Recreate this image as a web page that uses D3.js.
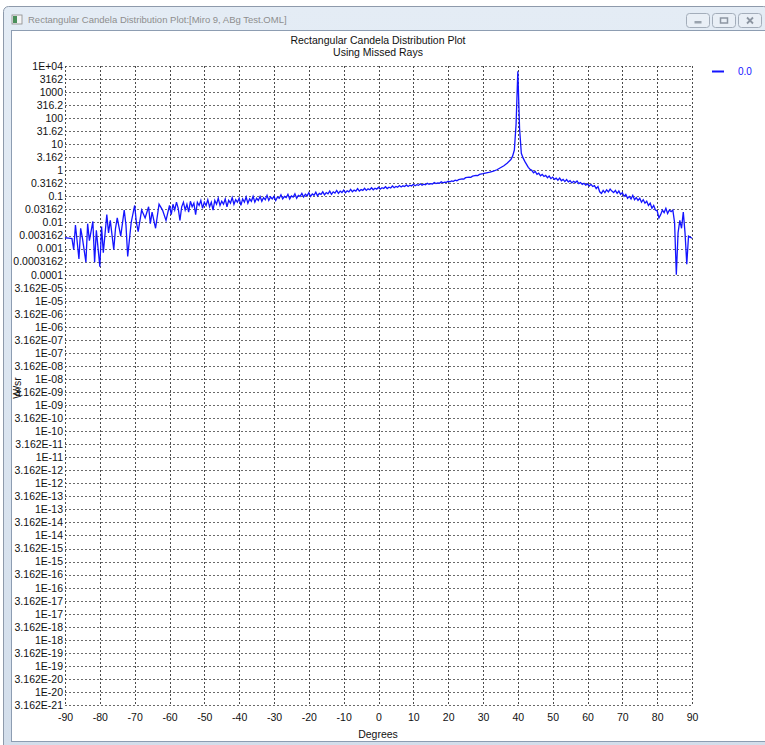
<!DOCTYPE html>
<html>
<head>
<meta charset="utf-8">
<script src="https://cdn.jsdelivr.net/npm/d3@7"></script>
<style>
  body { margin: 0; background: #fff; }
  svg text { font-family: "Liberation Sans", Arial, sans-serif; }
</style>
</head>
<body>
<div id="main"></div>
<script>
var W = 765, H = 745;

// chart texts
var windowTitle = "Rectangular Candela Distribution Plot:[Miro 9, ABg Test.OML]";
var chartTitle = ["Rectangular Candela Distribution Plot", "Using Missed Rays"];
var xLabel = "Degrees";
var yLabel = "W/sr";
var seriesName = "0.0";

// axis ticks
var xTicks = [-90, -80, -70, -60, -50, -40, -30, -20, -10, 0, 10, 20, 30, 40, 50, 60, 70, 80, 90];
var yTickLabels = ["1E+04","3162","1000","316.2","100","31.62","10","3.162","1","0.3162","0.1",
    "0.03162","0.01","0.003162","0.001","0.0003162","0.0001","3.162E-05","1E-05","3.162E-06",
    "1E-06","3.162E-07","1E-07","3.162E-08","1E-08","3.162E-09","1E-09","3.162E-10","1E-10",
    "3.162E-11","1E-11","3.162E-12","1E-12","3.162E-13","1E-13","3.162E-14","1E-14","3.162E-15",
    "1E-15","3.162E-16","1E-16","3.162E-17","1E-17","3.162E-18","1E-18","3.162E-19","1E-19",
    "3.162E-20","1E-20","3.162E-21"];

// [degrees, W/sr]
var missedRays = [
    [-90,0.0026],[-89,0.0025],[-88,0.0024],[-87.5,0.0009],[-87,0.008],[-86,0.0004],[-85.5,0.006],
    [-85,0.0025],[-84,0.0003],[-83.5,0.009],[-83,0.002],[-82,0.011],[-81.5,0.0003],[-81,0.005],
    [-80,0.0002],[-79.5,0.007],[-79,0.0007],[-78,0.02],[-77.5,0.004],[-77,0.012],[-76,0.0009],
    [-75.5,0.006],[-75,0.015],[-74,0.003],[-73,0.03],[-72.5,0.008],[-72,0.0005],[-71,0.01],
    [-70,0.045],[-69.5,0.01],[-69,0.0045],[-68,0.03],[-67,0.015],[-66,0.04],[-65.5,0.009],
    [-65,0.025],[-64,0.006],[-63,0.05],[-62,0.03],[-61,0.012],[-60,0.045],
    [-59.5,0.02],[-59,0.05],[-58.5,0.03],[-58,0.06],[-57.5,0.035],[-57,0.012],[-56.5,0.04],
    [-56,0.06],[-55.5,0.03],[-55,0.05],[-54.5,0.025],[-54,0.065],[-53.5,0.04],[-53,0.055],
    [-52.5,0.02],[-52,0.06],[-51.5,0.045],[-51,0.07],[-50.5,0.035],[-50,0.06],[-49.5,0.045],
    [-49,0.075],[-48.5,0.04],[-48,0.06],[-47.5,0.03],[-47,0.07],[-46.5,0.05],[-46,0.085],
    [-45.5,0.045],[-45,0.065],[-44.5,0.05],[-44,0.08],[-43.5,0.04],[-43,0.07],[-42.5,0.055],
    [-42,0.09],[-41.5,0.05],[-41,0.075],[-40.5,0.06],[-40,0.085],[-39.5,0.045],[-39,0.08],
    [-38.5,0.06],[-38,0.095],[-37.5,0.055],[-37,0.08],[-36.5,0.065],[-36,0.1],[-35.5,0.06],
    [-35,0.085],[-34.5,0.07],[-34,0.1],[-33.5,0.065],[-33,0.09],[-32.5,0.075],[-32,0.11],
    [-31.5,0.07],[-31,0.095],[-30.5,0.08],[-30,0.1],[-29.5,0.07],[-29,0.095],[-28.5,0.085],
    [-28,0.115],[-27.5,0.08],[-27,0.1],[-26.5,0.09],[-26,0.12],[-25.5,0.08],[-25,0.105],
    [-24.5,0.095],[-24,0.125],[-23.5,0.085],[-23,0.11],[-22.5,0.1],[-22,0.13],[-21.5,0.095],
    [-21,0.12],[-20.5,0.105],[-20,0.14],[-19.5,0.1],[-19,0.125],[-18.5,0.11],[-18,0.145],
    [-17.5,0.105],[-17,0.13],[-16.5,0.12],[-16,0.15],[-15.5,0.115],[-15,0.14],[-14.5,0.125],
    [-14,0.16],[-13.5,0.12],[-13,0.15],[-12.5,0.135],[-12,0.17],[-11.5,0.13],[-11,0.16],
    [-10.5,0.14],[-10,0.175],[-9.5,0.14],[-9,0.165],[-8.5,0.15],[-8,0.185],[-7.5,0.15],
    [-7,0.175],[-6.5,0.16],[-6,0.2],[-5.5,0.16],[-5,0.185],[-4.5,0.17],[-4,0.205],[-3.5,0.17],
    [-3,0.195],[-2.5,0.18],[-2,0.215],[-1.5,0.18],[-1,0.205],[-0.5,0.19],[0,0.225],[0.5,0.19],
    [1,0.215],[1.5,0.2],[2,0.235],[2.5,0.2],[3,0.225],[3.5,0.21],[4,0.25],[4.5,0.215],
    [5,0.24],[5.5,0.225],[6,0.26],[6.5,0.23],[7,0.255],[7.5,0.24],[8,0.275],[8.5,0.24],
    [9,0.27],[9.5,0.25],[10,0.29],[10.5,0.255],[11,0.28],[11.5,0.265],[12,0.305],[12.5,0.27],
    [13,0.295],[13.5,0.28],[14,0.32],[14.5,0.29],[15,0.31],[15.5,0.3],[16,0.34],[16.5,0.31],
    [17,0.33],[17.5,0.32],[18,0.36],[18.5,0.33],[19,0.355],[19.5,0.345],[20,0.38],[20.5,0.36],
    [21,0.39],[21.5,0.38],[22,0.42],[22.5,0.4],[23,0.44],[24,0.47],[24.5,0.46],[25,0.52],
    [26,0.55],[26.5,0.54],[27,0.6],[28,0.64],[28.5,0.63],[29,0.7],[30,0.74],[31,0.8],
    [32,0.86],[33,0.94],[34,1.05],[35,1.25],[36,1.5],[37,1.9],[38,2.6],[38.5,3.5],[39,6],
    [39.5,60],[40,6300],[40.5,40],[41,4.5],[41.5,3],[42,2.2],[43,1.3],[43.5,1.1],[44,1.0],
    [44.5,0.8],[45,0.9],[45.5,0.7],[46,0.78],[46.5,0.62],[47,0.7],[47.5,0.58],[48,0.64],
    [48.5,0.52],[49,0.6],[49.5,0.48],[50,0.55],[50.5,0.45],[51,0.5],[51.5,0.42],[52,0.5],
    [52.5,0.4],[53,0.45],[53.5,0.37],[54,0.44],[54.5,0.36],[55,0.4],[55.5,0.33],[56,0.38],
    [56.5,0.34],[57,0.39],[57.5,0.31],[58,0.34],[58.5,0.29],[59,0.32],[59.5,0.27],[60,0.3],
    [60.5,0.25],[61,0.29],[61.5,0.24],[62,0.26],[62.5,0.2],[63,0.24],[63.5,0.15],[64,0.13],
    [64.5,0.17],[65,0.14],[65.5,0.18],[66,0.15],[66.5,0.19],[67,0.16],[67.5,0.14],[68,0.17],
    [68.5,0.13],[69,0.16],[69.5,0.12],[70,0.14],[70.5,0.1],[71,0.12],[71.5,0.085],[72,0.1],
    [72.5,0.08],[73,0.11],[73.5,0.075],[74,0.09],[74.5,0.07],[75,0.085],[75.5,0.06],
    [76,0.075],[76.5,0.055],[77,0.065],[77.5,0.045],[78,0.055],[78.5,0.035],[79,0.045],
    [79.5,0.03],[80,0.028],[80.5,0.015],[81,0.02],[81.5,0.03],[82,0.024],[82.5,0.035],
    [83,0.022],[83.5,0.03],[84,0.026],[84.5,0.03],[85,0.01],[85.5,0.0001],[86,0.004],
    [86.5,0.012],[87,0.006],[87.5,0.025],[88,0.004],[88.5,0.00025],[89,0.003],[90,0.0025]
];

var svg = d3.select("#main").append("svg")
    .attr("width", W).attr("height", H);

// ---- window chrome ----
var defs = svg.append("defs");
var grad = defs.append("linearGradient").attr("id", "frameG")
    .attr("x1", 0).attr("y1", 0).attr("x2", 0).attr("y2", 1);
grad.append("stop").attr("offset", "0").attr("stop-color", "#e4ecf5");
grad.append("stop").attr("offset", "1").attr("stop-color", "#d3deeb");

svg.append("rect").attr("x", 3.5).attr("y", 6.5).attr("width", W).attr("height", H)
    .attr("rx", 5).style("fill", "url(#frameG)").style("stroke", "#8e9aab");
svg.append("rect").attr("x", 11.5).attr("y", 30.5).attr("width", W).attr("height", 711)
    .style("fill", "#fff").style("stroke", "#8d9db2");

// icon
svg.append("rect").attr("x", 12).attr("y", 15).attr("width", 10).attr("height", 9)
    .style("fill", "#f4f4f4").style("stroke", "#8a8a8a").style("stroke-width", 0.8);
svg.append("rect").attr("x", 13).attr("y", 16).attr("width", 4).attr("height", 7)
    .style("fill", "#4a8f5a");
svg.append("text").attr("x", 28).attr("y", 22.5)
    .style("font-size", "9.5px").style("fill", "#8e8e8e").text(windowTitle);

// caption buttons
[686, 712, 738].forEach(function(bx, i){
    svg.append("rect").attr("x", bx + 0.5).attr("y", 13.5).attr("width", 23).attr("height", 14)
        .attr("rx", 3).style("fill", "#e9eff6").style("stroke", "#a3adba");
    var g = svg.append("g").attr("transform", "translate(" + (bx + 12) + ",20.5)");
    if (i === 0) g.append("rect").attr("x", -3.5).attr("y", 0.5).attr("width", 7).attr("height", 2.5)
        .style("fill", "#9aa3ae");
    if (i === 1) g.append("rect").attr("x", -3.5).attr("y", -2.5).attr("width", 7).attr("height", 5)
        .style("fill", "none").style("stroke", "#8d96a2").style("stroke-width", 1.5);
    if (i === 2) g.append("path").attr("d", "M-3,-3L3,3M3,-3L-3,3")
        .style("stroke", "#8d96a2").style("stroke-width", 1.8);
});

// ---- chart ----
var xScale = d3.scaleLinear().domain([-90, 90]).range([65, 692]);
var yTickValues = yTickLabels.map(Number);
var yScale = d3.scaleLog()
    .domain([yTickValues[yTickValues.length - 1], yTickValues[0]])
    .range([705, 66]);

var plotG = svg.append("g");

// dotted grid
plotG.selectAll("line.hgrid").data(yTickValues).enter().append("line")
    .attr("class", "hgrid")
    .attr("x1", 65).attr("x2", 692)
    .attr("y1", function(d){ return Math.round(yScale(d)) + 0.5; })
    .attr("y2", function(d){ return Math.round(yScale(d)) + 0.5; })
    .style("stroke", "#6a6a6a").style("stroke-dasharray", "2,2");
plotG.selectAll("line.vgrid").data(xTicks).enter().append("line")
    .attr("class", "vgrid")
    .attr("y1", 66).attr("y2", 706)
    .attr("x1", function(d){ return Math.round(xScale(d)) + 0.5; })
    .attr("x2", function(d){ return Math.round(xScale(d)) + 0.5; })
    .style("stroke", "#4a4a4a").style("stroke-dasharray", "2,2");

// axes
var yAxis = plotG.append("g").attr("transform", "translate(63,0)")
    .call(d3.axisLeft(yScale).tickValues(yTickValues)
        .tickFormat(function(d, i){ return yTickLabels[i]; })
        .tickSize(0).tickPadding(0));
yAxis.select(".domain").remove();
yAxis.selectAll("text").style("font-size", "10.5px").style("fill", "#111")
    .style("font-family", "'Liberation Sans', Arial, sans-serif");

var xAxis = plotG.append("g").attr("transform", "translate(0,714)")
    .call(d3.axisBottom(xScale).tickValues(xTicks)
        .tickFormat(function(d){ return String(d); })
        .tickSize(0).tickPadding(0));
xAxis.select(".domain").remove();
xAxis.selectAll("text").style("font-size", "10.5px").style("fill", "#111")
    .style("font-family", "'Liberation Sans', Arial, sans-serif");

// titles
svg.append("text").attr("x", 378).attr("y", 44).style("text-anchor", "middle")
    .style("font-size", "10.5px").style("fill", "#111").text(chartTitle[0]);
svg.append("text").attr("x", 378).attr("y", 56).style("text-anchor", "middle")
    .style("font-size", "10.5px").style("fill", "#111").text(chartTitle[1]);
svg.append("text").attr("x", 378).attr("y", 738).style("text-anchor", "middle")
    .style("font-size", "10.5px").style("fill", "#111").text(xLabel);
svg.append("text")
    .attr("transform", "translate(21,388) rotate(-90)")
    .style("text-anchor", "middle")
    .style("font-size", "10.5px").style("fill", "#111").text(yLabel);

// series
var line = d3.line()
    .x(function(d){ return xScale(d[0]); })
    .y(function(d){ return yScale(d[1]); });
plotG.append("path").datum(missedRays)
    .attr("d", line)
    .style("fill", "none").style("stroke", "#1414ff").style("stroke-width", 1.3);

// legend
svg.append("line").attr("x1", 712).attr("x2", 724).attr("y1", 71.5).attr("y2", 71.5)
    .style("stroke", "#1414ff").style("stroke-width", 2);
svg.append("text").attr("x", 738).attr("y", 75)
    .style("font-size", "10px").style("fill", "#1414ff").text(seriesName);
</script>
</body>
</html>
